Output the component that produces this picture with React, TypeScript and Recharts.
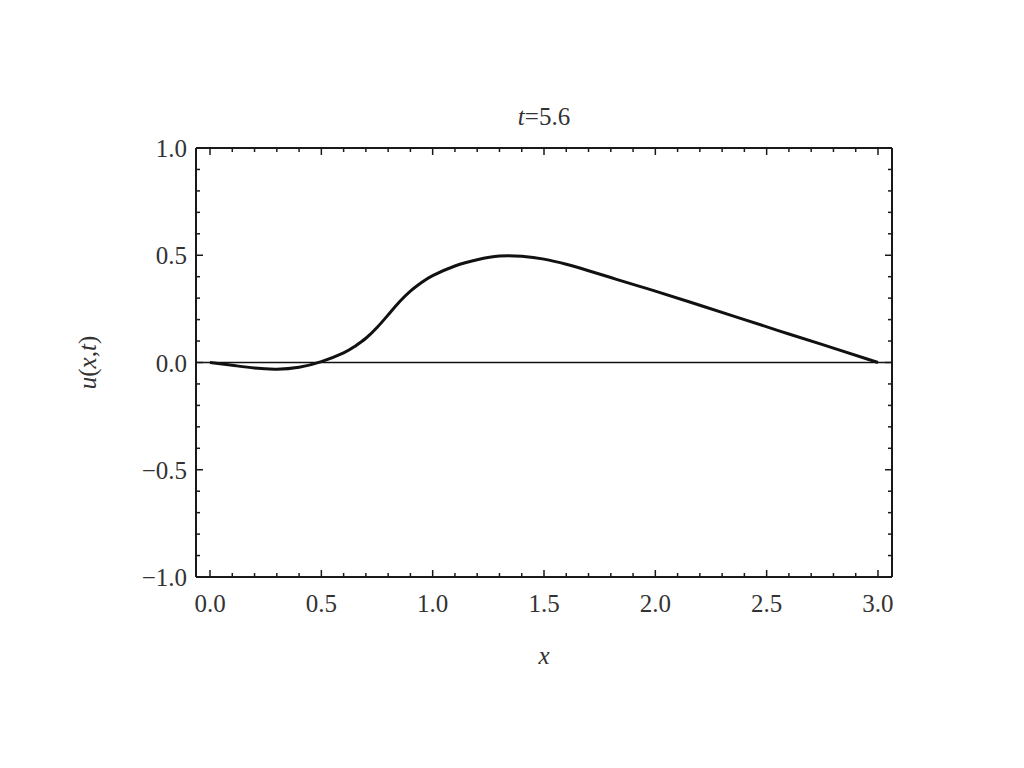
import React from 'react';
import { ComposedChart, Line, XAxis, YAxis, ReferenceLine, Label } from 'recharts';

const xValues = [0, 0.1, 0.2, 0.3, 0.4, 0.5, 0.6, 0.65, 0.7, 0.75, 0.8, 0.85, 0.9, 0.95, 1.0, 1.1, 1.2, 1.3, 1.4, 1.5, 1.6, 1.7, 1.8, 1.9, 2.0, 2.2, 2.4, 2.6, 2.8, 3.0];
const uValues = [0, -0.013, -0.026, -0.031, -0.022, 0.004, 0.045, 0.075, 0.113, 0.163, 0.222, 0.282, 0.333, 0.373, 0.405, 0.45, 0.479, 0.496, 0.495, 0.482, 0.458, 0.428, 0.396, 0.364, 0.333, 0.267, 0.2, 0.133, 0.067, 0];

const xTicks = [0, 0.1, 0.2, 0.3, 0.4, 0.5, 0.6, 0.7, 0.8, 0.9, 1.0, 1.1, 1.2, 1.3, 1.4, 1.5, 1.6, 1.7, 1.8, 1.9, 2.0, 2.1, 2.2, 2.3, 2.4, 2.5, 2.6, 2.7, 2.8, 2.9, 3.0];
const xMajor = [0, 0.5, 1.0, 1.5, 2.0, 2.5, 3.0];
const yTicks = [-1.0, -0.9, -0.8, -0.7, -0.6, -0.5, -0.4, -0.3, -0.2, -0.1, 0, 0.1, 0.2, 0.3, 0.4, 0.5, 0.6, 0.7, 0.8, 0.9, 1.0];
const yMajor = [-1.0, -0.5, 0, 0.5, 1.0];

const titleText = '=5.6';
const xLabelText = 'x';

const data = xValues.map((x, i) => ({ x, u: uValues[i] }));

const FONT = '"Liberation Serif", "Times New Roman", Times, serif';
const TEXT_COLOR = '#333';
const FRAME = '#1a1a1a';
const MAJOR_LEN = 7;
const MINOR_LEN = 4;

const isMajor = (v: number, majors: number[]) => majors.some((m) => Math.abs(m - v) < 1e-6);
const fmt = (v: number) => (v < 0 ? '\u2212' + Math.abs(v).toFixed(1) : v.toFixed(1));

const BottomTick = (props: any) => {
  const { x, y, payload } = props;
  const major = isMajor(payload.value, xMajor);
  const len = major ? MAJOR_LEN : MINOR_LEN;
  return (
    <g>
      <line x1={x} x2={x} y1={y} y2={y - len} stroke={FRAME} strokeWidth={1.5} />
      {major && (
        <text x={x} y={y + 35} textAnchor="middle" fontFamily={FONT} fontSize={25} fill={TEXT_COLOR}>
          {fmt(payload.value)}
        </text>
      )}
    </g>
  );
};

const TopTick = (props: any) => {
  const { x, y, payload } = props;
  const major = isMajor(payload.value, xMajor);
  const len = major ? MAJOR_LEN : MINOR_LEN;
  return <line x1={x} x2={x} y1={y} y2={y + len} stroke={FRAME} strokeWidth={1.5} />;
};

const LeftTick = (props: any) => {
  const { x, y, payload } = props;
  const major = isMajor(payload.value, yMajor);
  const len = major ? MAJOR_LEN : MINOR_LEN;
  return (
    <g>
      <line x1={x} x2={x + len} y1={y} y2={y} stroke={FRAME} strokeWidth={1.5} />
      {major && (
        <text x={x - 9} y={y + 9} textAnchor="end" fontFamily={FONT} fontSize={25} fill={TEXT_COLOR}>
          {fmt(payload.value)}
        </text>
      )}
    </g>
  );
};

const RightTick = (props: any) => {
  const { x, y, payload } = props;
  const major = isMajor(payload.value, yMajor);
  const len = major ? MAJOR_LEN : MINOR_LEN;
  return <line x1={x} x2={x - len} y1={y} y2={y} stroke={FRAME} strokeWidth={1.5} />;
};

const TitleLabel = (props: any) => {
  const vb = props.viewBox || {};
  const cx = vb.x + vb.width / 2;
  return (
    <text x={cx} y={vb.y - 22} textAnchor="middle" fontFamily={FONT} fontSize={25} fill={TEXT_COLOR}>
      <tspan fontStyle="italic">t</tspan>
      <tspan>{titleText}</tspan>
    </text>
  );
};

const XLabel = (props: any) => {
  const vb = props.viewBox || {};
  const cx = vb.x + vb.width / 2;
  return (
    <text x={cx} y={vb.y + 87} textAnchor="middle" fontFamily={FONT} fontSize={25} fontStyle="italic" fill={TEXT_COLOR}>
      {xLabelText}
    </text>
  );
};

const YLabel = (props: any) => {
  const vb = props.viewBox || {};
  const cy = vb.y + vb.height / 2;
  const lx = vb.x - 99;
  return (
    <text x={lx} y={cy} textAnchor="middle" fontFamily={FONT} fontSize={25} fill={TEXT_COLOR} transform={`rotate(-90, ${lx}, ${cy})`}>
      <tspan fontStyle="italic">u</tspan>
      <tspan>(</tspan>
      <tspan fontStyle="italic">x</tspan>
      <tspan>,</tspan>
      <tspan fontStyle="italic">t</tspan>
      <tspan>)</tspan>
    </text>
  );
};

export default function App() {
  return (
    <div style={{ width: 1008, height: 752, background: '#fff' }}>
      <ComposedChart
        width={1008}
        height={752}
        data={data}
        margin={{ top: 139, left: 187, right: 123, bottom: 182 }}
      >
        <XAxis
          dataKey="x"
          type="number"
          domain={[-0.063, 3.063]}
          ticks={xTicks}
          interval={0}
          height={1}
          tickSize={0}
          tickMargin={0}
          tickLine={false}
          tick={<BottomTick />}
          axisLine={{ stroke: FRAME, strokeWidth: 2 }}
          allowDataOverflow
        >
          <Label content={<XLabel />} />
        </XAxis>
        <XAxis
          xAxisId="top"
          dataKey="x"
          type="number"
          orientation="top"
          domain={[-0.063, 3.063]}
          ticks={xTicks}
          interval={0}
          height={1}
          tickSize={0}
          tickMargin={0}
          tickLine={false}
          tick={<TopTick />}
          axisLine={{ stroke: FRAME, strokeWidth: 2 }}
          allowDataOverflow
        >
          <Label content={<TitleLabel />} />
        </XAxis>
        <YAxis
          type="number"
          domain={[-1, 1]}
          ticks={yTicks}
          interval={0}
          width={1}
          tickSize={0}
          tickMargin={0}
          tickLine={false}
          tick={<LeftTick />}
          axisLine={{ stroke: FRAME, strokeWidth: 2 }}
          allowDataOverflow
        >
          <Label content={<YLabel />} />
        </YAxis>
        <YAxis
          yAxisId="right"
          type="number"
          orientation="right"
          domain={[-1, 1]}
          ticks={yTicks}
          interval={0}
          width={1}
          tickSize={0}
          tickMargin={0}
          tickLine={false}
          tick={<RightTick />}
          axisLine={{ stroke: FRAME, strokeWidth: 2 }}
          allowDataOverflow
        />
        <ReferenceLine y={0} stroke="#111" strokeWidth={1.3} />
        <Line
          type="natural"
          dataKey="u"
          stroke="#111"
          strokeWidth={3}
          dot={false}
          isAnimationActive={false}
        />
      </ComposedChart>
    </div>
  );
}
